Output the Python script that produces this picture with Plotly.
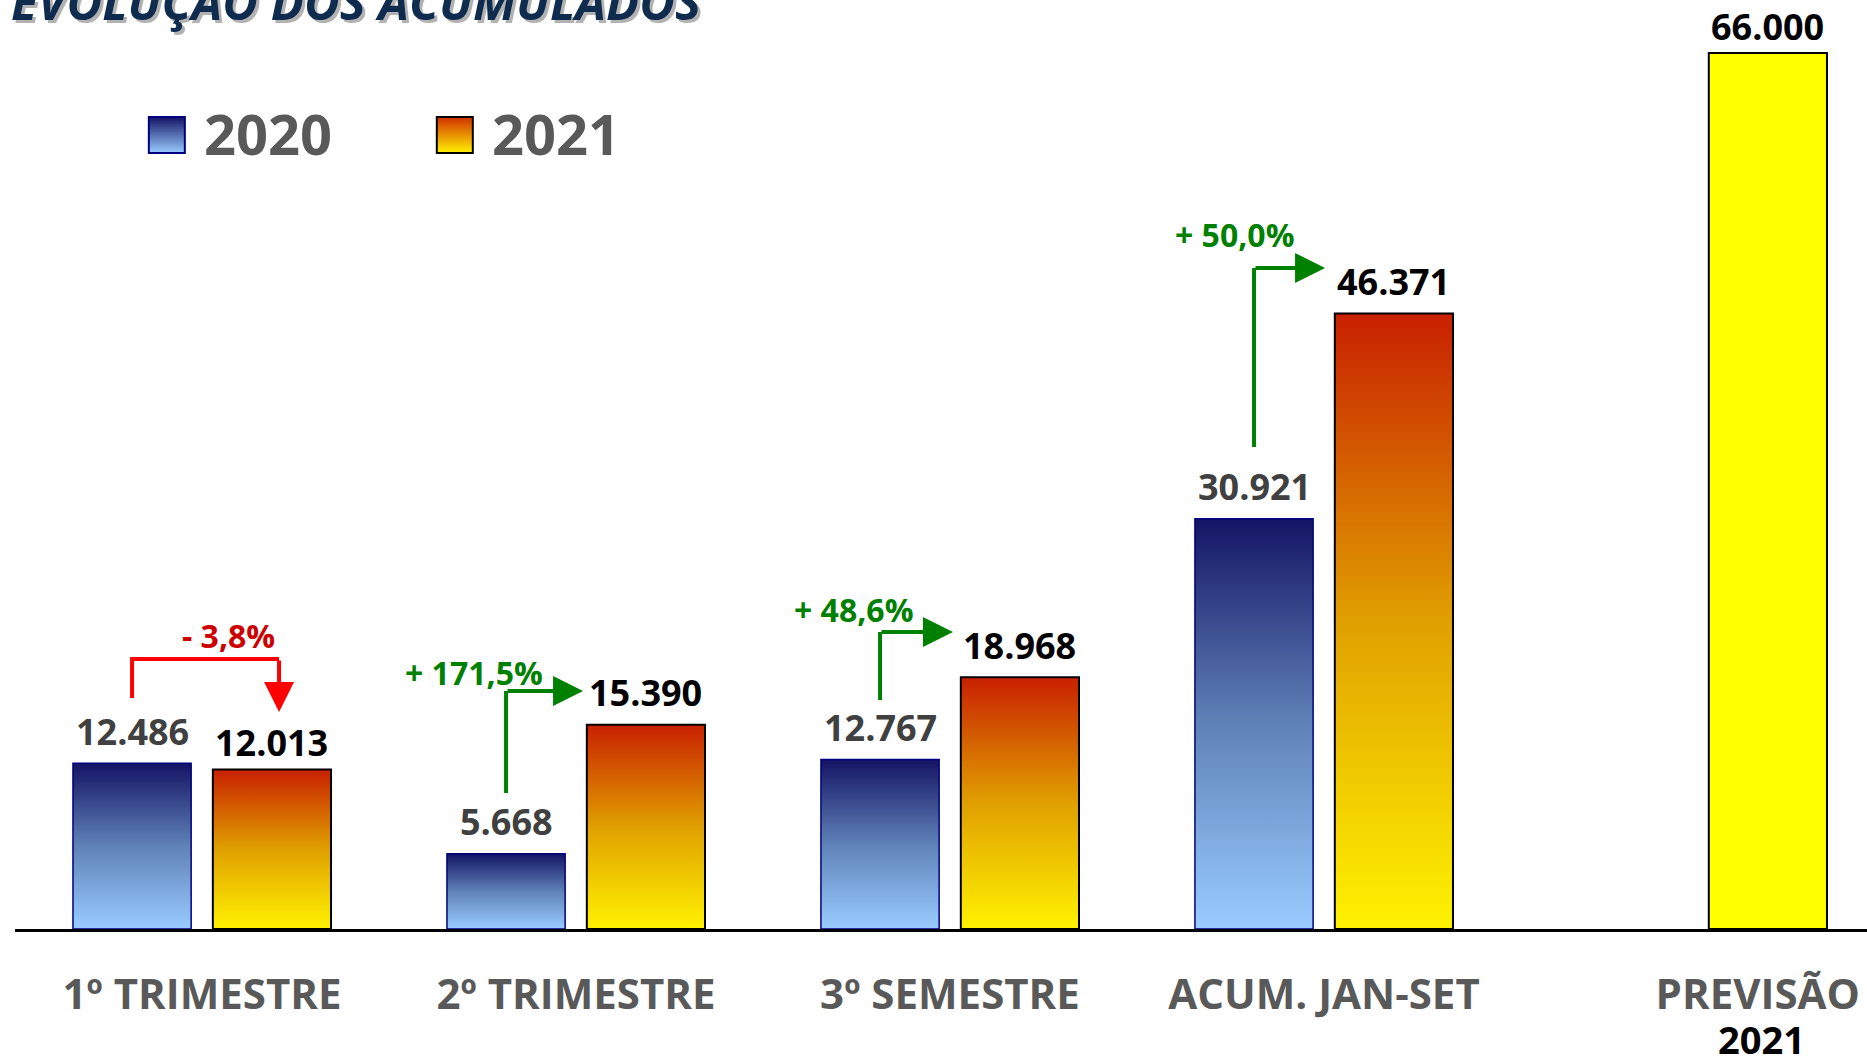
import plotly.graph_objects as go

# data
categories = ["1º TRIMESTRE", "2º TRIMESTRE", "3º SEMESTRE", "ACUM. JAN-SET", "PREVISÃO"]
tick_labels = ["1º TRIMESTRE", "2º TRIMESTRE", "3º SEMESTRE", "ACUM. JAN-SET", "PREVISÃO"]
values_2020 = [12486, 5668, 12767, 30921, None]
values_2021 = [12013, 15390, 18968, 46371, 66000]
labels_2020 = ["12.486", "5.668", "12.767", "30.921", None]
labels_2021 = ["12.013", "15.390", "18.968", "46.371", "66.000"]
changes = ["- 3,8%", "+ 171,5%", "+ 48,6%", "+ 50,0%"]

FONT = "Open Sans"
OFF = 0.187   # bar centre offset from category centre
HW = 0.158    # half bar width
shift_2020 = [32, 32, 32, 32, 32]
shift_2021 = [27, 32, 32, 32, 27]

grad_2020 = [[0, "#99CCFF"], [0.5, "#5F82B8"], [1, "#141464"]]
grad_2021 = [[0, "#FFF200"], [0.5, "#E0A000"], [1, "#C82000"]]


def bar_path(xc, v):
    return [xc - HW, xc + HW, xc + HW, xc - HW, xc - HW], [0, 0, v, v, 0]


fig = go.Figure()

for i, v in enumerate(values_2020):
    if v is None:
        continue
    xs, ys = bar_path(i - OFF, v)
    fig.add_trace(go.Scatter(x=xs, y=ys, fill="toself", mode="lines",
                             line=dict(color="#000080", width=1.5),
                             fillgradient=dict(type="vertical", colorscale=grad_2020),
                             showlegend=False, hoverinfo="skip"))

for i, v in enumerate(values_2021):
    xs, ys = bar_path(i + OFF, v)
    if i == len(values_2021) - 1:
        # forecast bar is plain yellow
        fig.add_trace(go.Scatter(x=xs, y=ys, fill="toself", mode="lines",
                                 line=dict(color="#000000", width=2),
                                 fillcolor="#FFFF00", showlegend=False, hoverinfo="skip"))
    else:
        fig.add_trace(go.Scatter(x=xs, y=ys, fill="toself", mode="lines",
                                 line=dict(color="#000000", width=2),
                                 fillgradient=dict(type="vertical", colorscale=grad_2021),
                                 showlegend=False, hoverinfo="skip"))

# legend swatches
fig.add_trace(go.Scatter(x=[-0.094], y=[59830], mode="markers", showlegend=False,
                         marker=dict(symbol="square", size=36, color="#141464",
                                     gradient=dict(type="vertical", color="#99CCFF"),
                                     line=dict(color="#000080", width=2)),
                         cliponaxis=False, hoverinfo="skip"))
fig.add_trace(go.Scatter(x=[0.676], y=[59830], mode="markers", showlegend=False,
                         marker=dict(symbol="square", size=36, color="#D03000",
                                     gradient=dict(type="vertical", color="#FFF200"),
                                     line=dict(color="#000000", width=2)),
                         cliponaxis=False, hoverinfo="skip"))

ann = []
for txt, x in [("2020", 0.0), ("2021", 0.77)]:
    ann.append(dict(x=x, y=59980, xref="x", yref="y", text=txt, showarrow=False,
                    xanchor="left", yanchor="middle",
                    font=dict(family=FONT, size=56, color="#595959", weight="bold")))

# value labels
for i, (v, t) in enumerate(zip(values_2020, labels_2020)):
    if v is None:
        continue
    ann.append(dict(x=i - OFF, y=v, xref="x", yref="y", text=t, showarrow=False,
                    yanchor="middle", yshift=shift_2020[i],
                    font=dict(family=FONT, size=36, color="#404040", weight="bold")))
for i, (v, t) in enumerate(zip(values_2021, labels_2021)):
    ann.append(dict(x=i + OFF, y=v, xref="x", yref="y", text=t, showarrow=False,
                    yanchor="middle", yshift=shift_2021[i],
                    font=dict(family=FONT, size=36, color="#000000", weight="bold")))

# change arrows: (leg bottom, corner y, tip x offset, tip y, label x offset, label y, colour)
arrow_style = [
    (17406, 20345, 0.206, 16351, 0.07, 22153, "#FF0000", "#CC0000"),
    (10248, 17934, 0.019, 17934, -0.273, 19365, "#008000", "#008000"),
    (17256, 22380, 0.008, 22380, -0.257, 24038, "#008000", "#008000"),
    (36320, 49808, 0.003, 49808, -0.24, 52295, "#008000", "#008000"),
]
shapes = []
for i, (ch, st) in enumerate(zip(changes, arrow_style)):
    y0, yc, tx, ty, lx, ly, col, tcol = st
    leg = i - OFF
    if ty < yc:
        path = f"M{leg},{y0} L{leg},{yc} L{i + tx},{yc}"
        ax, ay = i + tx, yc
    else:
        path = f"M{leg},{y0} L{leg},{yc}"
        ax, ay = leg, yc
    shapes.append(dict(type="path", path=path, xref="x", yref="y",
                       line=dict(color=col, width=4)))
    ann.append(dict(x=i + tx, y=ty, ax=ax, ay=ay, xref="x", yref="y", axref="x", ayref="y",
                    text="", showarrow=True, arrowhead=2, arrowsize=1.5, arrowwidth=4,
                    arrowcolor=col, standoff=0))
    ann.append(dict(x=i + lx, y=ly, xref="x", yref="y", text=ch, showarrow=False,
                    yanchor="middle",
                    font=dict(family=FONT, size=32, color=tcol, weight="bold")))

# second line of the forecast category label
ann.append(dict(x=4.17, y=0, xref="x", yref="paper", text="2021", showarrow=False,
                yanchor="middle", yshift=-110,
                font=dict(family=FONT, size=38, color="#000000", weight="bold")))

# title (cut at the top edge, with a soft shadow)
for dx, dy, col in [(3, -3, "rgba(0,0,0,0.3)"), (0, 0, "#0F2C4E")]:
    ann.append(dict(x=0, y=1, xref="paper", yref="paper", xanchor="left", yanchor="middle",
                    xshift=-6 + dx, yshift=-1 + dy, showarrow=False,
                    text="<i>EVOLUÇÃO DOS ACUMULADOS</i>",
                    font=dict(family=FONT, size=49, color=col, weight="bold")))

fig.update_layout(
    width=1867, height=1058,
    margin=dict(l=15, r=0, t=0, b=129),
    paper_bgcolor="white", plot_bgcolor="white",
    showlegend=False,
    annotations=ann, shapes=shapes,
    xaxis=dict(range=[-0.5, 4.452], showgrid=False, zeroline=False, automargin=False,
               showline=True, linecolor="#000000", linewidth=3,
               tickvals=[0, 1, 2, 3, 4.16], ticktext=tick_labels, ticks="",
               ticklabelstandoff=27,
               tickfont=dict(family=FONT, size=42, color="#595959", weight="bold")),
    yaxis=dict(range=[0, 70000], showgrid=False, zeroline=False, showticklabels=False,
               showline=False, automargin=False),
)

fig.write_html("out.html", config={"displayModeBar": False},
               post_script="document.body.style.margin='0';")
